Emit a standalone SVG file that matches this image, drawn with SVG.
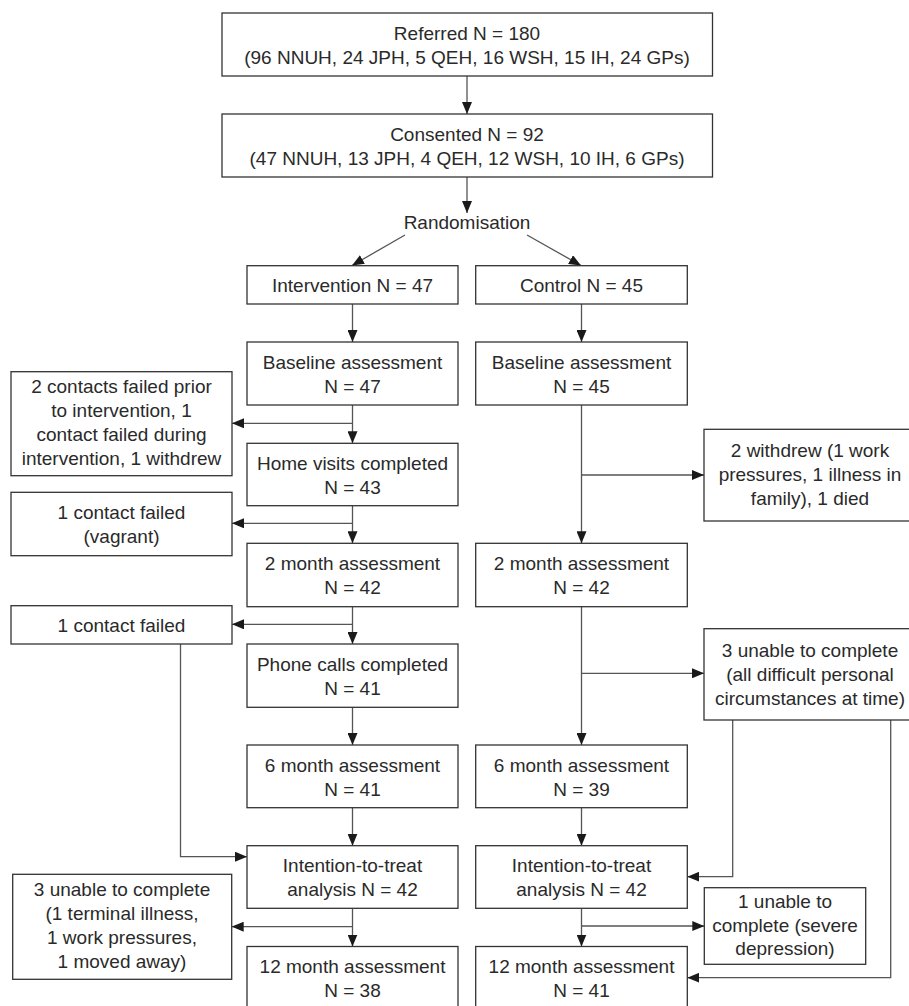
<svg xmlns="http://www.w3.org/2000/svg" width="909" height="1006" viewBox="0 0 909 1006">
<defs>
<marker id="arr" markerUnits="userSpaceOnUse" markerWidth="12" markerHeight="10" refX="12" refY="5" orient="auto">
<path d="M0,0 L12,5 L0,10 Z" fill="#1a1a1a"/>
</marker>
<style>
rect{fill:#fff;stroke:#333;stroke-width:1.3}
text{font-family:"Liberation Sans",Arial,sans-serif;font-size:19px;fill:#2a2a2a;text-anchor:middle}
.c path,.c line{fill:none;stroke:#555;stroke-width:1.3}
.a{marker-end:url(#arr)}
</style>
</defs>
<rect width="909" height="1006" style="fill:#fff;stroke:none"/>

<g class="c" id="connectors">
<line class="a" x1="467" y1="76" x2="467" y2="114"/>
<line class="a" x1="467" y1="177" x2="467" y2="213"/>
<line class="a" x1="405" y1="235" x2="352" y2="265.5"/>
<line class="a" x1="527" y1="235" x2="581" y2="265.5"/>
<line class="a" x1="352.5" y1="304" x2="352.5" y2="342"/>
<line class="a" x1="581.5" y1="304" x2="581.5" y2="342"/>
<line class="a" x1="352.5" y1="405" x2="352.5" y2="443.3"/>
<path class="a" d="M352.5,423.3 H232"/>
<line class="a" x1="581.5" y1="405" x2="581.5" y2="543.3"/>
<path class="a" d="M581.5,475 H704"/>
<line class="a" x1="352.5" y1="505.7" x2="352.5" y2="543.3"/>
<path class="a" d="M352.5,523.3 H232"/>
<line class="a" x1="352.5" y1="606.7" x2="352.5" y2="644"/>
<path class="a" d="M352.5,624.3 H232"/>
<line class="a" x1="352.5" y1="707.3" x2="352.5" y2="745"/>
<line class="a" x1="581.5" y1="606.7" x2="581.5" y2="745"/>
<path class="a" d="M581.5,673.3 H704"/>
<line class="a" x1="352.5" y1="807.7" x2="352.5" y2="845.7"/>
<line class="a" x1="581.5" y1="807.7" x2="581.5" y2="845.7"/>
<path class="a" d="M180.5,644 V856.7 H247"/>
<path class="a" d="M732.7,720 V876.7 H687.3"/>
<path class="a" d="M890.7,720 V977.7 H687.3"/>
<line class="a" x1="352.5" y1="908.3" x2="352.5" y2="946.5"/>
<path class="a" d="M352.5,926.7 H231.7"/>
<line class="a" x1="581.5" y1="908.3" x2="581.5" y2="946.5"/>
<path class="a" d="M581.5,926 H704.3"/>
</g>

<g id="referred">
<rect x="222" y="13" width="490.5" height="63"/>
<text x="467" y="40">Referred N = 180</text>
<text x="467" y="64">(96 NNUH, 24 JPH, 5 QEH, 16 WSH, 15 IH, 24 GPs)</text>
</g>
<g id="consented">
<rect x="222" y="114" width="490.5" height="63"/>
<text x="467" y="141">Consented N = 92</text>
<text x="467" y="165">(47 NNUH, 13 JPH, 4 QEH, 12 WSH, 10 IH, 6 GPs)</text>
</g>
<g id="randomisation">
<text x="467" y="229">Randomisation</text>
</g>

<g id="int-group">
<rect x="247" y="265.7" width="211" height="38.3"/>
<text x="352.5" y="291.5">Intervention N = 47</text>
</g>
<g id="ctrl-group">
<rect x="475.7" y="265.7" width="211.6" height="38.3"/>
<text x="581.5" y="291.5">Control N = 45</text>
</g>
<g id="int-baseline">
<rect x="247" y="342" width="211" height="63"/>
<text x="352.5" y="369">Baseline assessment</text>
<text x="352.5" y="393">N = 47</text>
</g>
<g id="ctrl-baseline">
<rect x="475.7" y="342" width="211.6" height="63"/>
<text x="581.5" y="369">Baseline assessment</text>
<text x="581.5" y="393">N = 45</text>
</g>
<g id="int-home">
<rect x="247" y="443.3" width="211" height="62.4"/>
<text x="352.5" y="470">Home visits completed</text>
<text x="352.5" y="494">N = 43</text>
</g>
<g id="int-2m">
<rect x="247" y="543.3" width="211" height="63.4"/>
<text x="352.5" y="570">2 month assessment</text>
<text x="352.5" y="594">N = 42</text>
</g>
<g id="ctrl-2m">
<rect x="475.7" y="543.3" width="211.6" height="63.4"/>
<text x="581.5" y="570">2 month assessment</text>
<text x="581.5" y="594">N = 42</text>
</g>
<g id="int-phone">
<rect x="247" y="644" width="211" height="63.3"/>
<text x="352.5" y="671">Phone calls completed</text>
<text x="352.5" y="695">N = 41</text>
</g>
<g id="int-6m">
<rect x="247" y="745" width="211" height="62.7"/>
<text x="352.5" y="772">6 month assessment</text>
<text x="352.5" y="796">N = 41</text>
</g>
<g id="ctrl-6m">
<rect x="475.7" y="745" width="211.6" height="62.7"/>
<text x="581.5" y="772">6 month assessment</text>
<text x="581.5" y="796">N = 39</text>
</g>
<g id="int-itt">
<rect x="247" y="845.7" width="211" height="62.6"/>
<text x="352.5" y="872">Intention-to-treat</text>
<text x="352.5" y="896">analysis N = 42</text>
</g>
<g id="ctrl-itt">
<rect x="475.7" y="845.7" width="211.6" height="62.6"/>
<text x="581.5" y="872">Intention-to-treat</text>
<text x="581.5" y="896">analysis N = 42</text>
</g>
<g id="int-12m">
<rect x="247" y="946.5" width="211" height="70"/>
<text x="352.5" y="973">12 month assessment</text>
<text x="352.5" y="997">N = 38</text>
</g>
<g id="ctrl-12m">
<rect x="475.7" y="946.5" width="211.6" height="70"/>
<text x="581.5" y="973">12 month assessment</text>
<text x="581.5" y="997">N = 41</text>
</g>

<g id="note-l1">
<rect x="11" y="371.7" width="221" height="104"/>
<text x="121.5" y="393">2 contacts failed prior</text>
<text x="121.5" y="417">to intervention, 1</text>
<text x="121.5" y="441">contact failed during</text>
<text x="121.5" y="465">intervention, 1 withdrew</text>
</g>
<g id="note-l2">
<rect x="11" y="492.3" width="221" height="63.4"/>
<text x="121.5" y="519">1 contact failed</text>
<text x="121.5" y="543">(vagrant)</text>
</g>
<g id="note-l3">
<rect x="11" y="605.7" width="221" height="38.3"/>
<text x="121.5" y="631.5">1 contact failed</text>
</g>
<g id="note-l4">
<rect x="12.7" y="874.3" width="219" height="105"/>
<text x="122" y="896">3 unable to complete</text>
<text x="122" y="920">(1 terminal illness,</text>
<text x="122" y="944">1 work pressures,</text>
<text x="122" y="968">1 moved away)</text>
</g>
<g id="note-r1">
<rect x="704" y="429.3" width="212" height="91.7"/>
<text x="810" y="457">2 withdrew (1 work</text>
<text x="810" y="481">pressures, 1 illness in</text>
<text x="810" y="505">family), 1 died</text>
</g>
<g id="note-r2">
<rect x="704" y="628.7" width="212" height="91.3"/>
<text x="810" y="657">3 unable to complete</text>
<text x="810" y="681">(all difficult personal</text>
<text x="810" y="705">circumstances at time)</text>
</g>
<g id="note-r3">
<rect x="704.3" y="887.7" width="161.4" height="76.6"/>
<text x="785" y="908">1 unable to</text>
<text x="785" y="932">complete (severe</text>
<text x="785" y="955">depression)</text>
</g>
</svg>
